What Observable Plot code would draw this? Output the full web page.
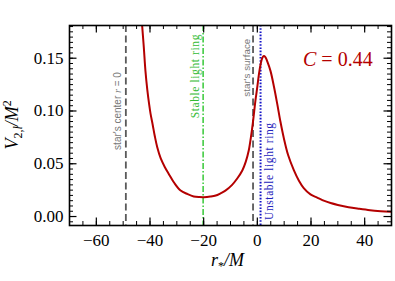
<!DOCTYPE html>
<html>
<head>
<meta charset="utf-8">
<script src="https://cdn.jsdelivr.net/npm/d3@7"></script>
<script src="https://cdn.jsdelivr.net/npm/@observablehq/plot@0.6"></script>
<style>
html,body{margin:0;padding:0;background:#fff;}
</style>
</head>
<body>
<div id="chart"></div>
<script>
// ---- data ----
const rStar = [-43.4, -42.9, -42.3, -41.7, -41, -40.3, -39.8, -39, -38.2, -37.3, -36, -34.5, -33, -31, -28.6, -26, -23.7, -21.5, -19.9, -17.5, -15.5, -13.7, -11.9, -9.4, -7.5, -5.6, -4.3, -3.2, -2.4, -1.7, -1.2, -0.7, 0, 0.6, 1.2, 1.8, 2.4, 3, 3.7, 4.9, 6.2, 7.4, 8.6, 9.9, 11.5, 13.6, 15.5, 17.3, 19.8, 22.3, 25, 27.3, 30, 34, 38, 42, 46, 50];
const V2l = [0.195, 0.18, 0.16, 0.138, 0.12, 0.106, 0.0975, 0.087, 0.076, 0.0656, 0.055, 0.047, 0.0404, 0.032, 0.0246, 0.0212, 0.019, 0.0184, 0.0183, 0.0189, 0.0199, 0.022, 0.0245, 0.030, 0.036, 0.0436, 0.052, 0.0625, 0.075, 0.088, 0.099, 0.110, 0.123, 0.135, 0.144, 0.150, 0.152, 0.151, 0.147, 0.138, 0.123, 0.107, 0.090, 0.074, 0.058, 0.044, 0.034, 0.027, 0.021, 0.018, 0.0148, 0.0128, 0.011, 0.0088, 0.0073, 0.0060, 0.0051, 0.0044];

const xMajor = [-60, -40, -20, 0, 20, 40];
const yMajor = [0, 0.05, 0.10, 0.15];
const xMinor = d3.range(-65, 50, 5);
const yMinor = d3.range(-0.005, 0.1801, 0.005);

const lineNames = ["star's center r = 0", "Stable light ring", "star's surface", "Unstable light ring"];
const lineX = [-49, -20.2, -1.6, 1.2];
const labelY = [0.10, 0.133, 0.141, 0.043];

const paramLabel = "C = 0.44";
const paramX = 30;
const paramY = 0.149;

const xLabel = "r*/M";
const yLabel = "V2,l/M2";

// ---- chart ----
const W = 395, H = 281, mL = 69, mR = 4, mT = 25, mB = 56;
const iw = W - mL - mR, ih = H - mT - mB;
const red = "#b40000";
const serif = "'Liberation Serif', 'DejaVu Serif', serif";
const sans = "'Liberation Sans', 'DejaVu Sans', sans-serif";

const chart = Plot.plot({
  width: W, height: H,
  marginLeft: mL, marginRight: mR, marginTop: mT, marginBottom: mB,
  x: {domain: [-70, 50]},
  y: {domain: [-0.0085, 0.181]},
  style: {fontFamily: serif, background: "white", color: "black"},
  marks: [
    // vertical reference lines
    Plot.ruleX([lineX[0]], {stroke: "#5a5a5a", strokeWidth: 1.8, strokeDasharray: "7,3.5"}),
    Plot.ruleX([lineX[1]], {stroke: "#44cc44", strokeWidth: 1.6, strokeDasharray: "6,2,1.5,2"}),
    Plot.ruleX([lineX[2]], {stroke: "#5a5a5a", strokeWidth: 1.8, strokeDasharray: "7,3.5"}),
    Plot.ruleX([lineX[3]], {stroke: "#1515c8", strokeWidth: 2, strokeDasharray: "1.6,1.6"}),
    // line labels
    Plot.text([lineNames[0]], {x: lineX[0], y: labelY[0], text: d => d, rotate: -90, dx: -8.5, fill: "#777", fontSize: 10, fontFamily: sans}),
    Plot.text([lineNames[1]], {x: lineX[1], y: labelY[1], text: d => d, rotate: -90, dx: -7.5, fill: "#33bb33", fontSize: 11.5, fontFamily: serif}),
    Plot.text([lineNames[2]], {x: lineX[2], y: labelY[2], text: d => d, rotate: -90, dx: -6.5, fill: "#777", fontSize: 9.8, fontFamily: sans}),
    Plot.text([lineNames[3]], {x: lineX[3], y: labelY[3], text: d => d, rotate: -90, dx: 8.5, fill: "#2222bb", fontSize: 11.5, fontFamily: serif}),
    // potential curve
    Plot.line(rStar.map((r, i) => ({r, v: V2l[i]})), {x: "r", y: "v", stroke: red, strokeWidth: 2, curve: "catmull-rom", clip: true}),
    // parameter label
    Plot.text([paramLabel], {x: paramX, y: paramY, text: d => d, fill: red, fontSize: 20, fontFamily: serif}),
    // ticks (inward, all four sides)
    Plot.ruleX(xMinor, {stroke: "black", strokeWidth: 1, insetTop: ih - 4}),
    Plot.ruleX(xMinor, {stroke: "black", strokeWidth: 1, insetBottom: ih - 4}),
    Plot.ruleX(xMajor, {stroke: "black", strokeWidth: 1.2, insetTop: ih - 7.5}),
    Plot.ruleX(xMajor, {stroke: "black", strokeWidth: 1.2, insetBottom: ih - 7.5}),
    Plot.ruleY(yMinor, {stroke: "black", strokeWidth: 1, insetRight: iw - 4}),
    Plot.ruleY(yMinor, {stroke: "black", strokeWidth: 1, insetLeft: iw - 4}),
    Plot.ruleY(yMajor, {stroke: "black", strokeWidth: 1.2, insetRight: iw - 7.5}),
    Plot.ruleY(yMajor, {stroke: "black", strokeWidth: 1.2, insetLeft: iw - 7.5}),
    // tick labels
    Plot.axisX({ticks: xMajor, tickSize: 0, tickPadding: 8, fontSize: 17, label: null}),
    Plot.axisY({ticks: yMajor, tickSize: 0, tickPadding: 6, fontSize: 17, tickFormat: d3.format(".2f"), label: null}),
    // axis titles
    Plot.text([xLabel], {frameAnchor: "bottom", text: d => d, dx: -3, dy: 40, fontSize: 18, fontStyle: "italic"}),
    Plot.text([yLabel], {frameAnchor: "left", text: d => d, rotate: -90, dx: -57, dy: 24, fontSize: 18, fontStyle: "italic"}),
    Plot.frame({stroke: "black", strokeWidth: 1.6})
  ]
});

// rich text (sub/superscripts, italics)
const svg = d3.select(chart);
const byText = s => svg.selectAll("text").filter(function() { return this.textContent === s; });
byText(yLabel).each(function() {
  const t = d3.select(this); t.text("");
  t.append("tspan").text("V");
  t.append("tspan").attr("font-size", 12).attr("font-style", "normal").attr("dy", 4).text("2,");
  t.append("tspan").attr("font-size", 12).text("l");
  t.append("tspan").attr("dy", -4).text("/M");
  t.append("tspan").attr("font-size", 12).attr("font-style", "normal").attr("dy", -7).text("2");
});
byText(xLabel).each(function() {
  const t = d3.select(this); t.text("");
  t.append("tspan").text("r");
  t.append("tspan").attr("font-size", 12).attr("font-style", "normal").attr("dy", 4).text("*");
  t.append("tspan").attr("dy", -4).text("/M");
});
byText(paramLabel).each(function() {
  const t = d3.select(this); t.text("");
  t.append("tspan").attr("font-style", "italic").text("C");
  t.append("tspan").text(" = 0.44");
});
byText(lineNames[0]).each(function() {
  const t = d3.select(this); t.text("");
  t.append("tspan").text("star's center ");
  t.append("tspan").attr("font-style", "italic").attr("font-family", serif).text("r");
  t.append("tspan").text(" = 0");
});
byText(lineNames[1]).style("letter-spacing", "0.6px");
byText(lineNames[3]).style("letter-spacing", "0.6px");

document.getElementById("chart").appendChild(chart);
</script>
</body>
</html>
